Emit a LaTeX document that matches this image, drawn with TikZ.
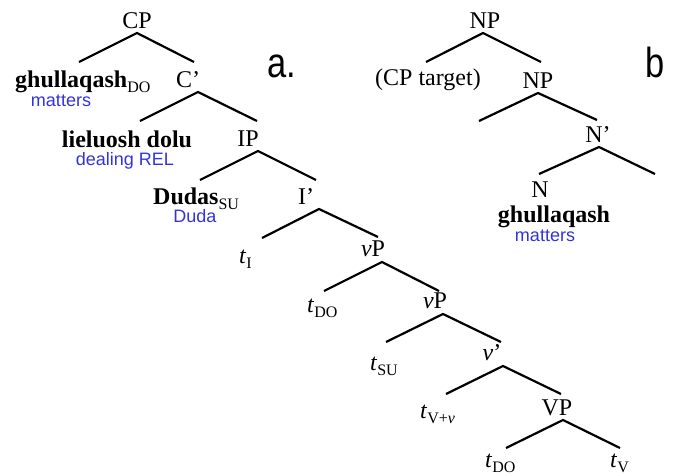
\documentclass[tikz,border=0pt]{standalone}
\usepackage{fontspec}
\setmainfont{Liberation Serif}
\setsansfont{Liberation Sans}
\definecolor{gloss}{RGB}{51,51,221}
\newcommand\sbx[1]{\raisebox{-5pt}{\fontsize{16}{16}\selectfont\mdseries\upshape #1}}
\begin{document}
\begin{tikzpicture}[x=1pt,y=-1pt,
  lab/.style={inner sep=0pt, anchor=base, font=\fontsize{24}{26}\selectfont},
  labw/.style={lab, anchor=base west},
  glo/.style={inner sep=0pt, anchor=base, text=gloss, font=\fontsize{18}{20}\sffamily},
  big/.style={inner sep=0pt, anchor=base west, font=\fontsize{42}{44}\sffamily, xscale=0.82},
  br/.style={line width=2.2pt}]
\useasboundingbox (0,0) rectangle (675,475);

% ---- tree a ----
\node[lab] (cp) at (137,28) {CP};
\node[labw] (g1) at (15,87) {\textbf{ghullaqash}\sbx{DO}};
\node[glo] (g1g) at (61,106) {matters};
\node[lab] (c1) at (188,87) {C’};
\node[lab] (ld) at (127,147) {\textbf{lieluosh dolu}};
\node[glo] (ldg) at (125,165) {dealing REL};
\node[lab] (ip) at (248,146) {IP};
\node[labw] (du) at (153,204) {\textbf{Dudas}\sbx{SU}};
\node[glo] (dug) at (195,222) {Duda};
\node[lab] (i1) at (306,204) {I’};
\node[labw] (ti) at (239,263) {\textit{t}\sbx{I}};
\node[lab] (vp1) at (373,256) {\textit{v}P};
\node[labw] (tdo1) at (307,312) {\textit{t}\sbx{DO}};
\node[lab] (vp2) at (435,308) {\textit{v}P};
\node[labw] (tsu) at (370,370) {\textit{t}\sbx{SU}};
\node[lab] (v1) at (492,360) {\textit{v}’};
\node[labw] (tvv) at (420,418) {\textit{t}\sbx{V+\textit{v}}};
\node[lab] (vp) at (557,415) {VP};
\node[labw] (tdo2) at (485,467) {\textit{t}\sbx{DO}};
\node[labw] (tv) at (610,467) {\textit{t}\sbx{V}};
\node[big] (la) at (267,77) {a.};

% ---- tree b ----
\node[lab] (np1) at (485,28) {NP};
\node[lab] (cpt) at (428,85) {(CP target)};
\node[lab] (np2) at (538,88) {NP};
\node[lab] (n1) at (598,142) {N’};
\node[lab] (n) at (540,197) {N};
\node[lab] (g2) at (554,222) {\textbf{ghullaqash}};
\node[glo] (g2g) at (545,241) {matters};
\node[big] (lb) at (645,77) {b};

% ---- branch points ----
\coordinate (cp-a) at (137,33); \coordinate (cp-l) at (79,62);  \coordinate (cp-r) at (194,62);
\coordinate (c1-a) at (198,92); \coordinate (c1-l) at (140,121); \coordinate (c1-r) at (257,121);
\coordinate (ip-a) at (258,151); \coordinate (ip-l) at (200,180); \coordinate (ip-r) at (316,180);
\coordinate (i1-a) at (319,209); \coordinate (i1-l) at (262,238); \coordinate (i1-r) at (378,237);
\coordinate (vp1-a) at (382,262); \coordinate (vp1-l) at (324,291); \coordinate (vp1-r) at (439,291);
\coordinate (vp2-a) at (443,314); \coordinate (vp2-l) at (386,342); \coordinate (vp2-r) at (501,342);
\coordinate (v1-a) at (503,366); \coordinate (v1-l) at (446,394); \coordinate (v1-r) at (561,394);
\coordinate (vp-a) at (563,420); \coordinate (vp-l) at (506,448); \coordinate (vp-r) at (620,448);
\coordinate (np1-a) at (483,33); \coordinate (np1-l) at (426,62); \coordinate (np1-r) at (541,62);
\coordinate (np2-a) at (538,93); \coordinate (np2-l) at (479,121); \coordinate (np2-r) at (597,120);
\coordinate (n1-a) at (599,147); \coordinate (n1-l) at (539,174); \coordinate (n1-r) at (655,174);

\foreach \p in {cp,c1,ip,i1,vp1,vp2,v1,vp,np1,np2,n1}{
  \draw[br] (\p-l) -- (\p-a) -- (\p-r);
}
\end{tikzpicture}
\end{document}
